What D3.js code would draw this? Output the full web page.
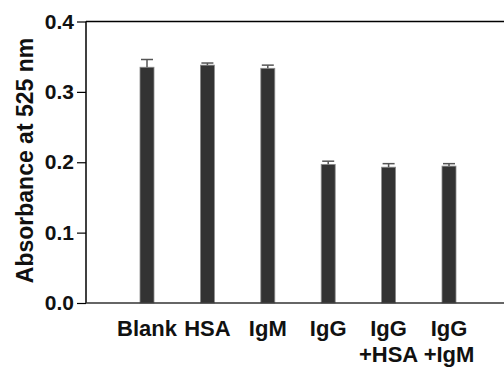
<!DOCTYPE html>
<html>
<head>
<meta charset="utf-8">
<script src="https://cdn.jsdelivr.net/npm/d3@7"></script>
<style>
  html, body { margin: 0; padding: 0; background: #fff; }
  svg { display: block; font-family: "Liberation Sans", Arial, sans-serif; font-weight: bold; }
</style>
</head>
<body>
<svg id="chart" width="504" height="367"></svg>
<script>
// Sample groups (multi-line labels split on "\n")
const categories = ["Blank", "HSA", "IgM", "IgG", "IgG\n+HSA", "IgG\n+IgM"];
// Mean absorbance at 525 nm
const absorbance = [0.335, 0.338, 0.3335, 0.197, 0.193, 0.1945];
// Standard deviation (upper error bar)
const errors = [0.011, 0.003, 0.0045, 0.0045, 0.005, 0.0035];
// Y axis ticks
const yTicks = [0.0, 0.1, 0.2, 0.3, 0.4];

const svg = d3.select("#chart");
const W = 504;
const plotLeft = 86, plotTop = 21.5, plotBottom = 303;

const y = d3.scaleLinear().domain([0, 0.4]).range([plotBottom, plotTop]);
const x = d3.scalePoint().domain(categories).range([147, 449]);
const barW = 14;

const data = categories.map((c, i) => ({ cat: c, v: absorbance[i], e: errors[i] }));

// Bars
svg.append("g").selectAll("rect").data(data).join("rect")
  .attr("x", d => x(d.cat) - barW / 2)
  .attr("y", d => y(d.v))
  .attr("width", barW)
  .attr("height", d => y(0) - y(d.v))
  .attr("fill", "#333")
  .attr("stroke", "#8c8c8c")
  .attr("stroke-width", 0.8);

// Error bars (upper only)
const eg = svg.append("g").attr("stroke", "#555").attr("stroke-width", 1.5);
eg.selectAll("line.v").data(data).join("line").attr("class", "v")
  .attr("x1", d => x(d.cat)).attr("x2", d => x(d.cat))
  .attr("y1", d => y(d.v)).attr("y2", d => y(d.v + d.e));
eg.selectAll("line.c").data(data).join("line").attr("class", "c")
  .attr("x1", d => x(d.cat) - 6).attr("x2", d => x(d.cat) + 6)
  .attr("y1", d => y(d.v + d.e)).attr("y2", d => y(d.v + d.e));

// Left axis
const yAxis = d3.axisLeft(y).tickValues(yTicks).tickFormat(d3.format(".1f")).tickSize(9).tickPadding(3);
const ga = svg.append("g").attr("transform", `translate(${plotLeft},0)`).call(yAxis);
ga.select(".domain").remove();
ga.selectAll(".tick line").attr("stroke", "#000").attr("stroke-width", 1.2);
ga.selectAll(".tick text").attr("font-size", 21).attr("font-weight", "bold")
  .attr("font-family", "Liberation Sans, Arial, sans-serif").attr("fill", "#111");
svg.append("line").attr("x1", plotLeft).attr("x2", plotLeft).attr("y1", plotTop).attr("y2", plotBottom)
  .attr("stroke", "#000").attr("stroke-width", 1.5);

// Frame lines top and bottom
svg.append("line").attr("x1", plotLeft).attr("x2", W).attr("y1", plotTop).attr("y2", plotTop)
  .attr("stroke", "#000").attr("stroke-width", 1.5);
svg.append("line").attr("x1", plotLeft).attr("x2", W).attr("y1", plotBottom).attr("y2", plotBottom)
  .attr("stroke", "#333").attr("stroke-width", 1.5);

// Category labels
const lab = svg.append("g").attr("font-size", 22).attr("fill", "#111").attr("text-anchor", "middle");
data.forEach(d => {
  const t = lab.append("text").attr("x", x(d.cat)).attr("y", 336);
  d.cat.split("\n").forEach((line, i) => {
    t.append("tspan").attr("x", x(d.cat)).attr("dy", i === 0 ? 0 : 25.5).text(line);
  });
});

// Y axis title
svg.append("text")
  .attr("transform", "translate(33,160.5) rotate(-90)")
  .attr("text-anchor", "middle")
  .attr("font-size", 23)
  .attr("fill", "#111")
  .text("Absorbance at 525 nm");
</script>
</body>
</html>
